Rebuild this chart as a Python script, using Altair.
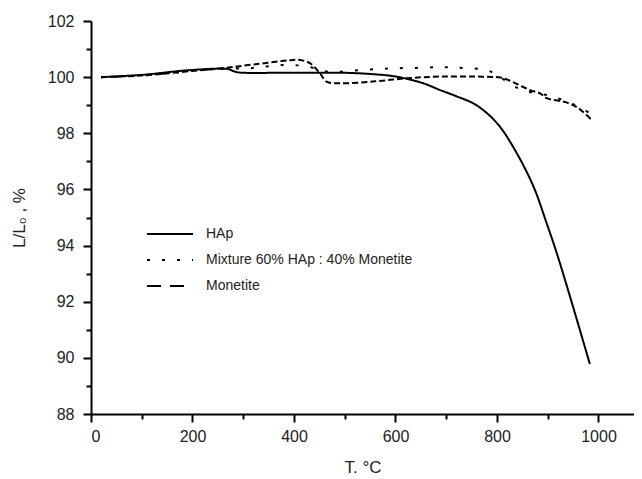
import altair as alt
import pandas as pd

# ---- data ----
t_hap = [20, 100, 195, 270, 280, 290, 400, 510, 560, 590, 620, 655, 688, 720, 753, 780, 806, 839, 872, 898, 918, 940, 960, 983]
v_hap = [100.0, 100.08, 100.25, 100.29, 100.22, 100.17, 100.16, 100.15, 100.1, 100.05, 99.95, 99.78, 99.54, 99.32, 99.07, 98.72, 98.23, 97.29, 96.1, 94.79, 93.72, 92.42, 91.2, 89.78]

t_mix = [20, 100, 200, 260, 307, 340, 372, 402, 435, 468, 529, 589, 640, 678, 707, 739, 780, 806, 842, 870, 904, 937, 960, 985]
v_mix = [100.0, 100.06, 100.22, 100.3, 100.31, 100.37, 100.43, 100.43, 100.34, 100.19, 100.25, 100.31, 100.33, 100.35, 100.35, 100.32, 100.25, 100.0, 99.6, 99.45, 99.34, 99.13, 98.95, 98.7]

t_mon = [20, 100, 200, 260, 320, 392, 412, 432, 451, 464, 490, 560, 622, 688, 760, 806, 815, 840, 865, 885, 898, 937, 960, 985]
v_mon = [100.0, 100.06, 100.22, 100.32, 100.45, 100.6, 100.61, 100.49, 100.14, 99.84, 99.78, 99.85, 99.96, 100.02, 100.02, 99.99, 99.95, 99.75, 99.54, 99.42, 99.25, 99.1, 98.9, 98.5]

series_names = ["HAp", "Mixture 60% HAp : 40% Monetite", "Monetite"]
plot_dashes = [[1, 0], [3, 12], [6, 3]]
legend_dashes = [[1, 0], [3, 12], [14, 9]]
x_ticks = list(range(0, 1001, 100))
y_ticks = list(range(88, 103, 1))

rows = []
for name, ts, vs in zip(series_names, [t_hap, t_mix, t_mon], [v_hap, v_mix, v_mon]):
    for t, v in zip(ts, vs):
        rows.append({"T": t, "L": v, "series": name})
df = pd.DataFrame(rows)

FONT = "Liberation Sans"

lines = alt.Chart(df).mark_line(interpolate="catmull-rom", strokeWidth=2, color="black").encode(
    x=alt.X("T:Q",
            scale=alt.Scale(domain=[0, 1070], nice=False, zero=False),
            axis=alt.Axis(values=x_ticks, title="T. °C", format="d",
                          labelExpr="datum.value % 200 == 0 ? datum.label : ''",
                          tickSize=alt.condition("datum.value % 200 == 0", alt.value(8), alt.value(5)),
                          labelPadding=6, titlePadding=15)),
    y=alt.Y("L:Q",
            scale=alt.Scale(domain=[88, 102], nice=False, zero=False),
            axis=alt.Axis(values=y_ticks, title="L/L₀ , %", format="d",
                          labelExpr="datum.value % 2 == 0 ? datum.label : ''",
                          tickSize=alt.condition("datum.value % 2 == 0", alt.value(8), alt.value(5)),
                          labelPadding=9, titlePadding=19)),
    strokeDash=alt.StrokeDash("series:N",
                              scale=alt.Scale(domain=series_names, range=plot_dashes),
                              legend=None),
    order=alt.Order("T:Q"),
)

# manual legend (layout positions in pixels)
legend_layers = []
for i, (name, dash) in enumerate(zip(series_names, legend_dashes)):
    ypos = 213 + 26 * i
    ldf = pd.DataFrame({"label": [name]})
    legend_layers.append(
        alt.Chart(ldf).mark_rule(strokeWidth=2, color="black", strokeDash=dash).encode(
            x=alt.value(56), x2=alt.value(102), y=alt.value(ypos)))
    legend_layers.append(
        alt.Chart(ldf).mark_text(align="left", baseline="middle", font=FONT, fontSize=14,
                                 color="#222").encode(
            x=alt.value(115), y=alt.value(ypos), text="label:N"))

chart = alt.layer(lines, *legend_layers).properties(
    width=543, height=393,
    autosize=alt.AutoSizeParams(type="none"),
    padding={"left": 83, "top": 13, "right": 0, "bottom": 66},
).configure_axis(
    domainColor="black", domainWidth=2, tickColor="black", tickWidth=2,
    labelFont=FONT, labelFontSize=16, labelColor="#222",
    titleFont=FONT, titleFontSize=17, titleColor="#222", titleFontWeight="normal",
    grid=False,
).configure_view(stroke=None)

chart.save("out.html", embed_options={"renderer": "svg", "actions": False})
